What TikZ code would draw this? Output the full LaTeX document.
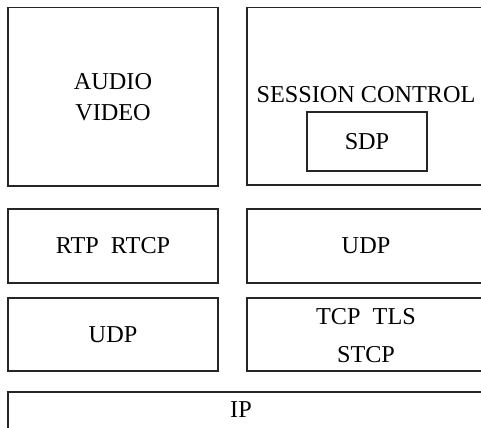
\documentclass[tikz,border=0pt]{standalone}
\usepackage{fontspec}
\setmainfont{Liberation Serif}
\usepackage{tikz}

\begin{document}
\begin{tikzpicture}[x=0.02cm,y=-0.02cm,
    layer/.style={draw=black!85,line width=0.7pt,inner sep=0pt,align=center,
      font=\fontsize{13.8}{17.6}\selectfont},
    txt/.style={inner sep=0pt,align=center,font=\fontsize{13.8}{17.6}\selectfont}]
    \clip (0,0) rectangle (481,428);
    \node[layer,minimum width=4.2cm,minimum height=3.57cm] (av) at (113,96.75) {AUDIO\\VIDEO};
    \node[layer,minimum width=4.76cm,minimum height=3.55cm] (sc) at (366,96.25) {};
    \node[txt] (sclabel) at (366,95) {SESSION CONTROL};
    \node[layer,minimum width=2.4cm,minimum height=1.18cm] (sdp) at (367,141.5) {SDP};

    \node[layer,minimum width=4.2cm,minimum height=1.48cm] (rtp) at (113,246) {RTP\ \ RTCP};
    \node[layer,minimum width=4.76cm,minimum height=1.48cm] (udpr) at (366,246) {UDP};
    \node[layer,minimum width=4.2cm,minimum height=1.46cm] (udpl) at (113,334.5) {UDP};
    \node[layer,minimum width=4.76cm,minimum height=1.46cm] (tcp) at (366,334.5) {};
    \node[txt] (tcplabel) at (366,336) {TCP\ \ TLS\\[0.3em]STCP};

    \node[layer,minimum width=9.54cm,minimum height=0.96cm] (ip) at (246.5,416) {};
    \node[txt] (iplabel) at (241,410) {IP};
  \end{tikzpicture}
\end{document}
